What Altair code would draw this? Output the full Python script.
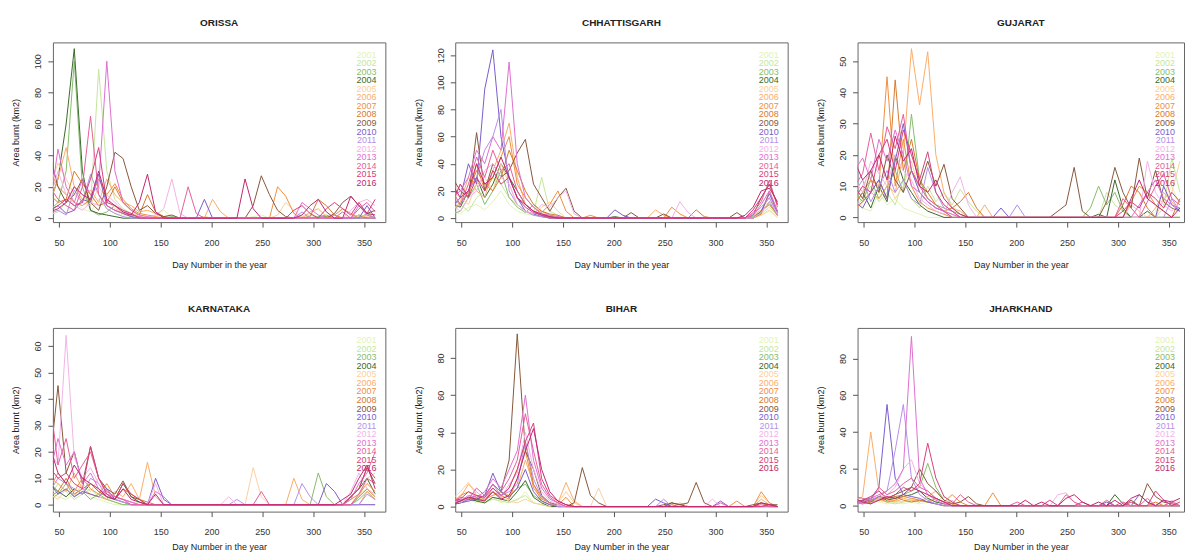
import altair as alt
import pandas as pd

FONT = "Liberation Sans"
DAYS = list(range(41, 362, 8))  # 8-day composites, 41 values
YEARS = [str(y) for y in range(2001, 2017)]
COLORS = ["#e3f3b4", "#c5e69c", "#86bd6c", "#3b6a2a", "#fdcf9e", "#fcad69",
          "#f08f3f", "#d77a2f", "#87573a", "#7a5ccc", "#b690e8", "#f2b4e8",
          "#df6fd0", "#e65f9a", "#d6407c", "#c0286e"]
X_TICKS = [50, 100, 150, 200, 250, 300, 350]

ORISSA = {
    "2001": [8,5,3,10,6,4,12,6,3,2, 1,0,0,2,5,1,0,0,0,1, 0,0,0,0,0,1,2,0,0,0, 0,1,3,1,0,0,0,2,1,0, 1],
    "2002": [2,4,10,20,15,8,95,30,12,6, 3,1,0,0,0,0,0,0,0,0, 0,0,0,0,0,0,0,0,0,0, 0,0,2,0,1,0,0,0,1,0, 0],
    "2003": [5,10,30,100,20,5,2,4,8,3, 1,0,0,0,0,1,0,0,0,0, 0,0,0,0,0,0,0,0,0,0, 0,0,0,1,2,0,0,0,0,3, 0],
    "2004": [10,25,60,108,30,5,3,2,1,0, 0,0,0,0,0,0,0,0,0,0, 0,0,0,0,0,0,0,0,0,0, 0,0,0,0,1,0,0,0,2,0, 0],
    "2005": [20,35,25,15,10,8,20,12,6,4, 3,2,1,2,1,0,0,0,0,1, 0,0,0,0,0,0,0,0,2,10, 5,1,0,0,0,0,0,0,2,1, 0],
    "2006": [10,25,45,20,12,18,10,25,15,10, 8,4,5,3,1,0,0,0,0,0, 12,4,0,0,0,0,0,0,0,0, 0,0,4,6,1,0,0,0,0,2, 0],
    "2007": [30,20,15,10,8,12,25,15,22,12, 6,3,2,1,0,0,0,0,0,0, 0,0,0,0,0,0,0,0,20,14, 3,0,0,0,0,2,6,3,0,0, 0],
    "2008": [15,10,12,30,22,15,8,10,20,10, 5,2,15,4,1,0,0,0,0,0, 0,0,0,0,0,0,0,0,0,0, 0,0,1,12,8,2,0,0,0,0, 0],
    "2009": [40,20,10,15,25,10,5,20,42,38, 20,5,8,3,1,2,0,0,0,0, 0,0,0,0,0,8,27,15,5,1, 0,0,0,0,0,3,10,14,8,3, 5],
    "2010": [5,8,3,5,12,10,28,8,5,3, 1,0,0,0,0,0,0,0,0,12, 0,0,0,0,0,0,0,0,0,0, 0,0,0,0,0,0,0,0,0,8, 0],
    "2011": [3,5,2,18,10,28,15,6,3,1, 0,0,0,0,0,0,0,0,0,0, 0,0,0,0,0,0,0,0,0,0, 0,4,0,0,0,0,0,0,0,0, 0],
    "2012": [12,30,15,8,5,10,8,15,10,5, 2,1,0,2,6,25,3,0,0,0, 0,0,0,0,0,0,0,0,0,0, 0,0,0,0,0,0,0,5,10,12, 8],
    "2013": [8,44,20,10,25,15,20,100,30,10, 5,2,1,0,0,0,0,0,0,0, 0,0,0,0,0,0,0,0,0,0, 0,10,6,2,0,0,0,0,8,2, 0],
    "2014": [20,12,8,5,20,65,15,8,5,3, 2,1,0,0,0,0,0,20,3,0, 0,0,0,0,0,0,0,0,0,0, 0,0,0,0,0,0,4,0,6,10, 4],
    "2015": [5,8,12,8,10,25,45,10,8,5, 3,0,0,0,0,0,0,0,0,0, 0,0,0,0,0,0,0,0,0,0, 5,8,3,0,6,10,6,2,10,3, 12],
    "2016": [4,6,10,20,15,12,30,12,8,4, 2,10,28,4,0,0,0,0,0,0, 0,0,0,0,25,6,0,0,0,0, 0,2,8,12,4,0,0,14,8,3, 2],
}

CHHATTISGARH = {
    "2001": [5,3,8,10,6,12,20,10,5,3, 2,1,0,0,0,0,0,0,0,0, 0,0,0,0,0,0,0,0,0,0, 0,0,0,0,0,0,0,0,2,5, 1],
    "2002": [8,10,5,15,20,30,25,15,10,5, 3,30,5,2,0,0,0,0,0,0, 0,0,0,0,0,0,0,0,0,0, 0,0,0,0,0,0,0,0,3,8, 2],
    "2003": [3,5,15,25,10,20,35,15,8,4, 10,5,2,0,0,0,0,0,0,0, 0,0,0,0,0,0,0,0,0,0, 0,0,0,0,0,0,0,1,5,10, 3],
    "2004": [10,8,20,30,15,25,40,30,20,10, 5,2,1,0,0,0,0,0,0,0, 1,0,0,0,0,0,0,0,0,0, 0,0,0,0,0,0,0,0,4,12, 2],
    "2005": [20,15,10,25,30,20,40,25,10,5, 3,8,12,5,0,0,0,0,0,0, 0,0,0,0,0,0,0,0,0,0, 0,0,0,0,0,0,0,0,2,6, 0],
    "2006": [5,12,30,20,15,35,50,70,30,10, 5,3,2,1,0,0,0,0,0,0, 0,0,0,0,0,6,2,0,0,0, 0,0,0,0,0,0,0,2,6,15, 4],
    "2007": [10,25,15,40,20,30,45,60,25,15, 8,4,10,20,5,0,0,2,0,0, 0,0,0,0,0,0,0,8,3,0, 0,0,0,0,0,0,0,0,5,10, 2],
    "2008": [15,10,20,35,25,20,30,50,35,20, 10,5,3,2,0,0,0,0,0,0, 0,0,0,0,0,0,0,0,0,0, 6,1,0,0,0,0,0,0,3,20, 5],
    "2009": [30,20,15,63,20,40,30,35,48,58, 25,15,5,15,22,5,0,0,0,0, 0,0,4,0,0,0,3,0,0,0, 0,0,0,0,0,4,0,2,15,25, 10],
    "2010": [8,15,40,25,95,124,60,30,15,5, 3,1,0,0,0,0,0,0,0,0, 6,2,0,0,0,0,0,0,0,0, 0,0,0,0,0,0,0,0,5,18, 4],
    "2011": [5,10,20,30,50,60,80,20,10,5, 2,1,0,0,0,0,0,0,0,0, 0,0,0,0,0,0,0,0,0,0, 0,0,0,0,0,0,0,3,8,15, 2],
    "2012": [10,5,15,20,35,40,30,25,10,5, 3,10,8,15,20,3,0,0,0,0, 0,0,0,0,0,0,0,0,12,4, 0,0,0,0,0,0,0,0,4,12, 3],
    "2013": [15,20,30,50,40,60,50,115,40,15, 8,3,2,1,0,0,0,0,0,0, 0,0,0,0,0,0,0,0,0,0, 0,0,0,0,0,0,0,2,10,20, 5],
    "2014": [20,10,25,45,30,50,35,40,20,10, 5,2,1,0,0,0,0,0,0,0, 0,0,0,0,0,0,0,0,0,0, 0,0,0,0,0,0,0,4,12,28, 8],
    "2015": [12,25,15,30,20,35,25,30,15,8, 4,2,0,0,0,0,0,0,0,0, 0,0,0,0,0,0,0,0,0,0, 0,0,0,0,0,0,0,6,15,25, 10],
    "2016": [25,15,20,40,25,30,45,30,15,10, 5,3,1,0,0,0,0,0,0,0, 0,0,0,0,0,0,0,0,0,0, 0,0,0,0,0,0,2,8,20,22, 12],
}

GUJARAT = {
    "2001": [5,3,2,8,4,6,3,2,1,0, 0,0,0,0,0,0,0,0,0,0, 0,0,0,0,0,0,0,0,0,0, 0,0,0,0,0,0,0,2,6,10, 4],
    "2002": [3,6,10,5,8,4,12,6,3,10, 5,8,4,9,5,2,0,0,0,0, 0,0,0,0,0,0,0,0,0,0, 0,8,4,2,0,0,0,0,3,19, 8],
    "2003": [8,5,12,6,10,15,8,33,12,6, 4,3,2,1,0,0,0,0,0,0, 0,0,0,0,0,0,0,0,0,3, 10,4,8,2,0,0,0,0,0,0, 0],
    "2004": [4,8,3,10,5,20,12,8,4,2, 1,0,0,0,0,0,0,0,0,0, 0,0,0,0,0,0,0,0,0,0, 1,0,12,3,0,0,2,0,0,0, 0],
    "2005": [6,10,15,8,12,6,10,18,8,5, 3,2,1,0,0,0,0,0,0,0, 0,0,0,0,0,0,0,0,0,0, 0,0,0,0,4,2,0,0,6,8, 18],
    "2006": [2,5,8,6,10,8,20,54,36,53, 20,8,3,2,0,0,4,0,0,0, 0,0,0,0,0,0,0,0,0,0, 0,0,0,0,0,0,0,3,8,5, 2],
    "2007": [4,8,12,10,45,10,25,10,5,3, 2,1,0,0,0,0,0,0,0,0, 0,0,0,0,0,0,0,0,0,0, 0,0,0,0,5,10,8,4,2,0, 0],
    "2008": [3,5,8,12,6,44,15,25,12,8, 4,2,3,5,8,3,0,0,0,0, 0,0,0,0,0,0,0,0,0,0, 0,0,0,4,10,8,3,0,0,0, 6],
    "2009": [10,6,15,8,20,12,8,15,10,18, 10,17,6,3,0,0,0,0,0,0, 0,0,0,0,0,2,4,16,2,0, 0,5,16,8,3,19,6,15,5,3, 2],
    "2010": [5,3,8,12,6,18,30,15,8,5, 3,2,0,0,0,0,0,0,3,0, 0,0,0,0,0,0,0,0,0,0, 0,0,0,0,0,0,0,0,10,4, 2],
    "2011": [8,12,5,10,15,8,12,6,4,16, 8,3,2,0,0,0,0,0,0,0, 4,0,0,0,0,0,0,0,0,0, 0,0,0,0,0,0,0,0,0,6, 2],
    "2012": [12,8,18,14,10,20,15,12,6,4, 2,1,8,13,4,0,0,0,0,0, 0,0,0,0,0,0,0,0,0,0, 0,0,0,0,0,0,18,8,4,2, 5],
    "2013": [15,19,12,25,18,28,20,10,8,5, 3,2,1,0,0,0,0,0,0,0, 0,0,0,0,0,0,0,0,0,0, 0,0,0,0,0,4,8,12,6,4, 3],
    "2014": [10,14,27,15,29,22,33,15,10,6, 4,2,0,0,0,0,0,0,0,0, 0,0,0,0,0,0,0,0,0,0, 0,0,0,6,3,0,5,10,14,6, 4],
    "2015": [6,10,8,20,25,15,28,20,12,21, 8,4,2,0,0,0,0,0,0,0, 0,0,0,0,0,0,0,0,0,0, 0,0,0,2,5,3,8,6,3,8, 5],
    "2016": [18,12,15,20,12,26,18,22,10,8, 12,6,3,1,0,0,0,0,0,0, 0,0,0,0,0,0,0,0,0,0, 0,0,0,0,6,12,6,4,2,0, 3],
}

KARNATAKA = {
    "2001": [5,3,2,4,6,3,2,1,0,0, 0,0,0,0,0,0,0,0,0,0, 0,0,0,0,0,0,0,0,0,0, 0,0,0,0,0,0,0,2,4,6, 3],
    "2002": [3,8,5,2,4,6,3,2,1,0, 0,1,0,0,0,0,0,0,0,0, 0,0,0,0,0,0,0,0,0,0, 0,0,0,0,0,0,0,0,3,10, 12],
    "2003": [2,4,8,3,5,2,4,2,1,0, 0,0,0,0,0,0,0,0,0,0, 0,0,0,0,0,0,0,0,0,0, 0,0,0,12,3,0,0,0,2,5, 2],
    "2004": [8,5,3,6,4,8,5,3,2,8, 3,1,0,0,0,0,0,0,0,0, 0,0,0,0,0,0,0,0,0,0, 0,0,0,0,0,0,0,3,6,10, 4],
    "2005": [4,2,6,3,8,5,10,4,2,1, 0,0,0,0,0,0,0,0,0,0, 0,0,0,0,0,14,3,0,0,0, 0,0,0,0,0,0,0,0,0,0, 0],
    "2006": [10,8,5,12,6,4,3,2,5,3, 8,2,16,3,0,0,0,0,0,0, 0,0,0,0,0,0,0,0,0,0, 10,2,0,0,0,0,0,0,0,5, 2],
    "2007": [6,12,8,5,10,6,4,8,3,2, 1,0,0,0,0,0,0,0,0,0, 0,0,0,0,0,0,0,0,0,0, 0,0,0,0,0,0,0,2,4,8, 5],
    "2008": [3,5,10,4,6,8,5,3,2,6, 4,2,1,0,0,0,0,0,0,0, 0,0,0,0,0,0,0,0,0,0, 0,0,0,0,0,0,0,0,3,6, 3],
    "2009": [15,45,12,20,8,22,10,6,4,9, 3,2,0,0,0,0,0,0,0,0, 0,0,0,0,0,0,0,0,0,0, 0,0,0,0,0,0,0,3,6,14, 8],
    "2010": [8,4,6,3,5,4,3,6,2,1, 0,0,0,10,2,0,0,0,0,0, 0,0,0,0,0,0,0,0,0,0, 0,0,0,0,8,5,0,0,0,0, 0],
    "2011": [5,10,8,6,4,10,8,3,2,1, 0,0,0,0,0,0,0,0,0,0, 0,0,0,2,0,0,0,0,0,0, 0,8,3,0,0,0,0,0,0,4, 2],
    "2012": [20,15,64,18,10,14,8,5,3,2, 1,0,0,8,0,0,0,0,0,0, 0,0,3,0,0,0,0,0,0,0, 0,0,0,0,0,0,0,5,12,6, 4],
    "2013": [12,25,15,20,8,12,6,4,3,2, 1,0,0,5,3,0,0,0,0,0, 0,0,0,0,0,0,0,0,0,0, 0,0,0,0,0,0,0,2,8,12, 20],
    "2014": [40,15,25,10,15,20,10,5,3,2, 0,0,0,0,0,0,0,0,0,0, 0,0,0,0,0,0,5,0,0,0, 0,0,0,0,0,0,0,0,4,10, 8],
    "2015": [14,10,12,8,6,22,10,4,2,8, 4,2,0,0,0,0,0,0,0,0, 0,0,0,0,0,0,0,0,0,0, 0,0,0,0,0,0,0,3,6,14, 10],
    "2016": [22,12,8,15,10,8,6,3,2,6, 2,1,0,4,0,0,0,0,0,0, 0,0,0,0,0,0,0,0,0,0, 0,0,0,0,0,0,2,4,10,15, 6],
}

BIHAR = {
    "2001": [2,3,4,2,3,5,2,4,3,8, 2,1,0,0,0,0,0,0,0,0, 0,0,0,0,0,0,0,0,0,0, 0,0,0,0,0,0,0,0,2,0, 0],
    "2002": [1,2,3,5,2,4,3,2,4,6, 2,1,0,0,0,0,0,0,0,0, 0,0,0,0,0,0,0,0,0,0, 0,0,0,0,0,0,0,0,0,0, 0],
    "2003": [3,2,5,3,4,6,8,5,10,12, 6,3,1,0,0,0,0,0,0,0, 0,0,0,0,0,0,0,0,0,0, 0,0,0,0,0,0,0,0,0,1, 0],
    "2004": [1,2,4,3,2,5,4,3,8,14, 5,2,0,0,0,0,0,0,0,0, 0,0,0,0,0,0,0,2,1,0, 0,0,0,0,0,0,0,0,0,0, 0],
    "2005": [4,8,13,6,3,8,5,3,2,4, 2,1,0,2,8,2,0,0,10,0, 0,0,0,0,0,0,0,0,0,0, 0,0,0,0,0,0,0,0,6,2, 0],
    "2006": [3,5,12,8,4,6,8,6,10,25, 12,3,1,2,13,3,0,0,0,0, 0,0,0,0,0,0,0,0,2,0, 0,0,0,0,0,0,0,0,4,1, 0],
    "2007": [2,6,8,5,3,10,6,4,15,30, 10,4,2,1,5,0,0,0,0,0, 0,0,0,0,0,0,0,0,0,0, 0,0,0,0,0,3,0,0,8,2, 0],
    "2008": [1,3,4,6,4,8,5,10,20,35, 12,5,2,0,0,0,0,0,0,0, 0,0,0,0,0,0,0,1,0,0, 0,0,0,0,0,0,0,0,2,0, 0],
    "2009": [2,3,5,4,6,12,8,25,93,30, 20,6,2,1,0,2,21,6,2,0, 0,0,0,0,0,0,1,2,1,2, 13,2,0,0,0,0,0,1,2,1, 1],
    "2010": [1,2,3,4,6,18,8,5,10,20, 8,3,1,0,0,0,0,0,0,0, 0,0,0,0,0,4,2,0,0,0, 0,0,0,3,0,0,0,0,0,0, 0],
    "2011": [2,4,3,6,5,12,6,8,12,35, 15,5,2,0,0,0,0,0,0,0, 0,0,0,0,0,0,4,0,0,0, 0,0,0,0,0,0,0,0,0,0, 0],
    "2012": [3,2,5,8,4,10,5,12,18,40, 20,8,3,1,0,0,0,0,0,0, 0,0,0,0,0,0,0,0,0,0, 0,0,4,0,0,0,0,0,0,0, 0],
    "2013": [4,3,6,5,8,15,10,20,30,60, 25,10,4,2,0,0,0,0,0,0, 0,0,0,0,0,0,0,0,0,0, 0,0,0,0,0,0,0,0,0,0, 0],
    "2014": [2,5,4,10,6,12,8,15,25,50, 30,12,5,2,0,0,0,0,0,0, 0,0,0,0,0,0,0,0,0,0, 0,0,0,2,0,0,0,0,1,0, 0],
    "2015": [3,4,8,6,5,10,6,10,20,35, 45,15,6,3,1,0,0,0,0,0, 0,0,0,0,0,0,0,0,0,0, 0,0,0,0,0,0,0,0,0,1, 0],
    "2016": [1,3,5,4,3,8,4,6,15,30, 42,20,8,3,1,0,0,0,0,0, 0,0,0,0,0,0,0,0,0,0, 0,0,0,0,0,0,0,0,2,1, 0],
}

JHARKHAND = {
    "2001": [1,2,3,2,1,2,1,2,1,2, 1,0,0,0,0,0,0,0,0,0, 0,0,0,0,0,0,0,0,0,0, 0,0,0,0,0,0,0,0,2,1, 3],
    "2002": [2,1,2,3,2,1,2,3,2,4, 2,5,1,0,0,0,0,0,0,0, 0,0,0,0,0,0,0,0,0,0, 0,0,0,0,0,0,0,0,0,2, 0],
    "2003": [1,2,1,4,3,5,6,8,10,23, 10,3,1,0,0,0,0,0,0,0, 0,0,0,0,0,0,0,0,0,0, 0,0,0,0,0,0,0,0,0,0, 0],
    "2004": [2,3,2,5,3,4,5,6,8,4, 2,1,0,0,0,0,0,0,0,0, 0,0,0,0,0,0,0,0,0,0, 0,0,6,1,0,0,0,0,0,0, 0],
    "2005": [1,2,5,3,2,3,2,4,3,2, 1,0,2,0,0,0,0,0,0,0, 0,0,0,0,0,0,0,0,0,0, 0,0,0,0,0,0,0,0,0,0, 0],
    "2006": [2,5,40,8,3,2,4,3,2,5, 8,3,1,0,0,0,0,0,0,0, 0,0,0,0,0,0,0,0,0,0, 0,0,0,0,0,0,0,0,0,0, 0],
    "2007": [1,2,3,4,2,3,5,4,3,2, 4,2,6,2,0,0,0,7,0,0, 0,0,0,0,0,0,0,0,0,0, 0,0,0,0,0,0,0,0,0,0, 0],
    "2008": [2,1,2,3,4,5,3,2,3,2, 1,0,0,0,0,0,0,0,0,0, 0,0,0,0,0,0,0,0,0,0, 0,0,0,0,0,0,0,2,0,0, 0],
    "2009": [1,2,3,5,4,6,8,10,20,12, 8,3,1,2,5,1,0,0,0,0, 0,0,0,0,0,0,0,0,0,0, 0,0,0,0,3,0,12,5,2,1, 0],
    "2010": [1,3,4,10,55,15,6,5,4,2, 1,0,0,0,0,0,0,0,0,0, 0,0,0,0,0,0,0,0,0,0, 0,2,0,0,0,6,2,0,3,0, 0],
    "2011": [2,1,3,5,8,30,55,15,6,3, 1,0,0,0,0,0,0,0,0,0, 0,0,0,0,0,0,0,0,0,0, 0,0,0,0,0,0,0,0,0,0, 0],
    "2012": [3,2,1,4,6,10,20,25,12,8, 4,2,3,0,0,0,0,0,0,0, 0,0,0,0,0,6,7,2,0,0, 0,0,0,0,0,0,0,0,0,3, 0],
    "2013": [1,2,4,6,8,12,20,92,15,6, 3,1,0,0,0,0,0,0,0,0, 0,0,0,0,0,0,0,0,0,0, 0,0,0,0,0,0,0,0,0,0, 0],
    "2014": [5,4,3,10,6,8,12,15,10,8, 4,2,1,6,2,0,0,0,0,0, 2,0,0,0,0,0,6,2,0,0, 0,3,0,2,0,0,4,0,0,2, 0],
    "2015": [2,3,5,8,4,6,10,8,12,34, 15,5,2,0,0,0,0,0,0,0, 0,0,0,0,3,0,0,0,2,0, 0,0,0,0,2,0,0,8,3,0, 2],
    "2016": [4,2,1,3,5,4,6,10,8,6, 4,2,0,0,0,0,0,0,0,0, 0,3,0,2,0,0,4,6,2,0, 2,0,3,0,4,6,2,0,3,2, 4],
}

# (title, data, y-domain, y ticks, x max, width, height, x-title padding)
PANELS = [
    ("ORISSA", ORISSA, [-2.5, 112], [0, 20, 40, 60, 80, 100], 371, 333, 180, 13),
    ("CHHATTISGARH", CHHATTISGARH, [-3, 129.5], [0, 20, 40, 60, 80, 100, 120], 371, 333, 180, 13),
    ("GUJARAT", GUJARAT, [-1.5, 56], [0, 10, 20, 30, 40, 50], 365, 327, 180, 13),
    ("KARNATAKA", KARNATAKA, [-2.6, 66.8], [0, 10, 20, 30, 40, 50, 60], 371, 333, 184, 6),
    ("BIHAR", BIHAR, [-2.7, 96.2], [0, 20, 40, 60, 80], 371, 333, 184, 6),
    ("JHARKHAND", JHARKHAND, [-3.2, 96.6], [0, 20, 40, 60, 80], 365, 327, 184, 6),
]

color_enc = alt.Color("year:N", scale=alt.Scale(domain=YEARS, range=COLORS), legend=None)


def panel(title, series, ydom, yticks, xmax, width, height, xtitle_pad):
    rows = []
    for yr in YEARS:
        for d, v in zip(DAYS, series[yr]):
            rows.append({"day": d, "area": v, "year": yr})
    df = pd.DataFrame(rows)
    lines = alt.Chart(df).mark_line(strokeWidth=1, clip=True).encode(
        x=alt.X("day:Q", scale=alt.Scale(domain=[44, xmax], nice=False, zero=False),
                axis=alt.Axis(values=X_TICKS, title="Day Number in the year",
                              labelPadding=11, titlePadding=xtitle_pad)),
        y=alt.Y("area:Q", scale=alt.Scale(domain=ydom, nice=False, zero=False),
                axis=alt.Axis(values=yticks, title="Area burnt (km2)", labelAngle=270,
                              labelPadding=5, titlePadding=13)),
        color=color_enc,
    )
    leg = alt.Chart(pd.DataFrame({"year": YEARS})).mark_text(
        align="right", baseline="middle", fontSize=9, font=FONT
    ).encode(
        y=alt.Y("year:O", scale=alt.Scale(type="point", domain=YEARS, range=[8, 145]), axis=None),
        x=alt.value(width - 9),
        text="year:N",
        color=color_enc,
    )
    return alt.layer(lines, leg).resolve_scale(y="independent").properties(
        width=width, height=height,
        title=alt.TitleParams(title, fontSize=10, fontWeight="bold", font=FONT,
                              color="#222222", offset=14),
    )


charts = [panel(*p) for p in PANELS]

chart = alt.concat(*charts, columns=3, spacing={"row": 106, "column": 70}, bounds="flush").properties(
    padding={"left": 11, "top": 17, "right": 0, "bottom": 0},
    background="white",
).configure_view(
    stroke="#666666", strokeWidth=1
).configure_axis(
    grid=False, domain=False, tickSize=5, tickColor="#555555", tickWidth=1,
    labelFont=FONT, titleFont=FONT, labelFontSize=9, titleFontSize=9,
    titleFontWeight="normal", labelColor="#333333", titleColor="#222222",
)

chart.save("out.html", embed_options={"renderer": "svg", "actions": False})
